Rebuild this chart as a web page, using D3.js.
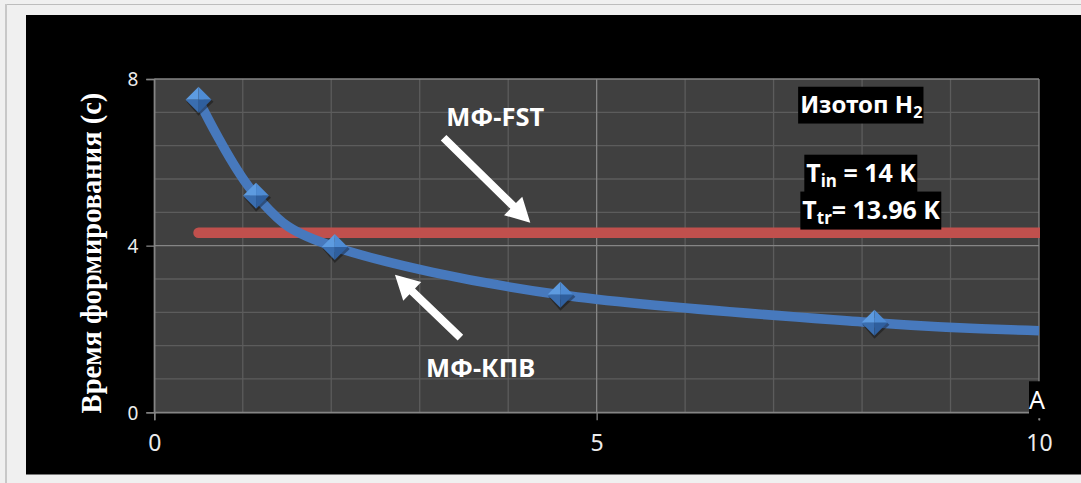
<!DOCTYPE html>
<html><head><meta charset="utf-8">
<script src="https://cdn.jsdelivr.net/npm/d3@7"></script>
<style>html,body{margin:0;padding:0;background:#f0f0f0;} svg{display:block}</style>
</head><body><svg id="c" width="1081" height="483"></svg>
<script>
// ---- data ----
const xValues = [0.5, 1.15, 2.04, 4.59, 8.14, 10];
const kpvValues = [7.5, 5.2, 3.97, 2.82, 2.15, 1.96];
const markerCount = 5;
const fstX = [0.5, 10];
const fstValues = [4.31, 4.31];
const xTicks = [0, 5, 10];
const yTicks = [0, 4, 8];
const xMinorGrid = [1, 2, 3, 4, 6, 7, 8, 9];
const yMinorGrid = [0.8, 1.6, 2.4, 3.2, 4.8, 5.6, 6.4, 7.2];
const yTitle = "Время формирования (с)";
const xTitle = "A";
const seriesLabels = [
  {text: "МФ-FST", x: 3.30, y: 6.86},
  {text: "МФ-КПВ", x: 3.07, y: 0.85}
];
const arrows = [
  {x1: 3.27, y1: 6.59, x2: 4.25, y2: 4.55},
  {x1: 3.46, y1: 1.79, x2: 2.72, y2: 3.30}
];
const infoBoxes = [
  {main: "Изотоп H", sub: "2", rest: "", x: 7.30, y: 7.19, size: 24},
  {main: "T", sub: "in", rest: " = 14 K", x: 7.37, y: 5.535, size: 25},
  {main: "T", sub: "tr", rest: "= 13.96 K", x: 7.325, y: 4.65, size: 25}
];

// ---- layout ----
const svg = d3.select("#c");
const L = 154.3, R = 1039, T = 79, B = 412.3;
const x = d3.scaleLinear().domain([0, 10]).range([L, R]);
const y = d3.scaleLinear().domain([0, 8]).range([B, T]);

// outer frame
svg.append("rect").attr("x", 0).attr("y", 0).attr("width", 1081).attr("height", 483).attr("fill", "#f0f0f0");
svg.append("line").attr("x1", 5).attr("x2", 1081).attr("y1", 4.5).attr("y2", 4.5).attr("stroke", "#bdbdbd").attr("stroke-width", 1);
svg.append("line").attr("x1", 6).attr("x2", 6).attr("y1", 4).attr("y2", 483).attr("stroke", "#c8c8c8").attr("stroke-width", 2);
svg.append("rect").attr("x", 26).attr("y", 15).attr("width", 1081 - 26).attr("height", 474.5 - 15).attr("fill", "#000");

// plot area
svg.append("rect").attr("x", L).attr("y", T).attr("width", R - L).attr("height", B - T).attr("fill", "#404040");

const grid = svg.append("g");
grid.selectAll(".vx").data(xMinorGrid).join("line")
  .attr("x1", d => x(d)).attr("x2", d => x(d)).attr("y1", T).attr("y2", B)
  .attr("stroke", "#5c5c5c").attr("stroke-width", 1.3);
grid.selectAll(".hy").data(yMinorGrid).join("line")
  .attr("y1", d => y(d)).attr("y2", d => y(d)).attr("x1", L).attr("x2", R)
  .attr("stroke", "#5c5c5c").attr("stroke-width", 1.3);
// major grid
grid.selectAll(".mx").data(xTicks).join("line")
  .attr("x1", d => x(d)).attr("x2", d => x(d)).attr("y1", T).attr("y2", B)
  .attr("stroke", "#858585").attr("stroke-width", 1.3);
grid.selectAll(".my").data(yTicks).join("line")
  .attr("y1", d => y(d)).attr("y2", d => y(d)).attr("x1", L).attr("x2", R)
  .attr("stroke", "#858585").attr("stroke-width", 1.3);

// axes
const yAxis = d3.axisLeft(y).tickValues(yTicks).tickSize(8).tickPadding(8).tickFormat(d3.format("d"));
const xAxis = d3.axisBottom(x).tickValues(xTicks).tickSize(8).tickPadding(14).tickFormat(d3.format("d"));
const gy = svg.append("g").attr("transform", `translate(${L},0)`).call(yAxis);
const gx = svg.append("g").attr("transform", `translate(0,${B})`).call(xAxis);
[gx, gy].forEach(g => {
  g.select(".domain").attr("stroke", "#858585").attr("stroke-width", 1.3);
  g.selectAll(".tick line").attr("stroke", "#858585").attr("stroke-width", 1.3);
  g.selectAll(".tick text").attr("fill", "#ececec").attr("font-family", "'Noto Sans', sans-serif");
});
gy.selectAll(".tick text").attr("font-size", 19).attr("dy", "0.36em");
gx.selectAll(".tick text").attr("font-size", 23).attr("dy", "0.72em");

// clip
svg.append("clipPath").attr("id", "clip").append("rect")
  .attr("x", L - 40).attr("y", T - 40).attr("width", R - L + 40 + 1).attr("height", B - T + 80);

// FST line
const fstData = fstX.map((d, i) => [d, fstValues[i]]);
svg.append("path").datum(fstData).attr("clip-path", "url(#clip)")
  .attr("d", d3.line().x(d => x(d[0])).y(d => y(d[1])))
  .attr("stroke", "#c0504d").attr("stroke-width", 10.5).attr("stroke-linecap", "round").attr("fill", "none");

// KPV curve
const kpvData = xValues.map((d, i) => [d, kpvValues[i]]);
svg.append("path").datum(kpvData).attr("clip-path", "url(#clip)")
  .attr("d", d3.line().x(d => x(d[0])).y(d => y(d[1])).curve(d3.curveCardinal.tension(0)))
  .attr("stroke", "#4779bd").attr("stroke-width", 9.5).attr("stroke-linecap", "butt").attr("fill", "none");

// markers (beveled diamonds)
const s = 13;
const faces = [
  {pts: [[0, -s], [-s, 0], [0, 0]], c: "#5d9be0"},
  {pts: [[0, -s], [s, 0], [0, 0]], c: "#4f8cd4"},
  {pts: [[-s, 0], [0, s], [0, 0]], c: "#3a6eb0"},
  {pts: [[s, 0], [0, s], [0, 0]], c: "#2f5f9e"}
];
const mk = svg.selectAll(".mk").data(kpvData.slice(0, markerCount)).join("g")
  .attr("transform", d => `translate(${x(d[0])},${y(d[1])})`);
mk.append("path").attr("d", `M0,${-s + 2}L${s + 2},2L0,${s + 3}L${-s + 1},2Z`).attr("fill", "rgba(0,0,0,0.35)");
faces.forEach(f => {
  mk.append("path").attr("d", "M" + f.pts.map(p => p.join(",")).join("L") + "Z").attr("fill", f.c);
});

// arrows
const sw = 8, hl = 24, hw = 13;
arrows.forEach(a => {
  const x1 = x(a.x1), y1 = y(a.y1), x2 = x(a.x2), y2 = y(a.y2);
  const dx = x2 - x1, dy = y2 - y1, len = Math.hypot(dx, dy);
  const ux = dx / len, uy = dy / len, px = -uy, py = ux;
  const bx = x2 - ux * hl, by = y2 - uy * hl;
  const pts = [
    [x1 + px * sw / 2, y1 + py * sw / 2],
    [bx + px * sw / 2, by + py * sw / 2],
    [bx + px * hw, by + py * hw],
    [x2, y2],
    [bx - px * hw, by - py * hw],
    [bx - px * sw / 2, by - py * sw / 2],
    [x1 - px * sw / 2, y1 - py * sw / 2]
  ];
  svg.append("path").attr("d", "M" + pts.map(p => p.join(",")).join("L") + "Z").attr("fill", "#fff");
});

// series labels
svg.selectAll(".sl").data(seriesLabels).join("text")
  .attr("x", d => x(d.x)).attr("y", d => y(d.y))
  .attr("font-family", "'Noto Sans', sans-serif").attr("font-weight", "bold").attr("font-size", 25.5)
  .attr("fill", "#fff").text(d => d.text);

// info boxes
infoBoxes.forEach(b => {
  const g = svg.append("g");
  const rect = g.append("rect").attr("fill", "#000");
  const t = g.append("text").attr("x", x(b.x)).attr("y", y(b.y))
    .attr("font-family", "'Noto Sans', sans-serif").attr("font-weight", "bold").attr("font-size", b.size).attr("fill", "#fff");
  t.append("tspan").text(b.main);
  t.append("tspan").attr("font-size", b.size * 0.68).attr("dy", b.size * 0.2).text(b.sub);
  if (b.rest) t.append("tspan").attr("dy", -b.size * 0.2).text(b.rest);
  const bb = t.node().getBBox();
  rect.attr("x", bb.x - 2).attr("y", bb.y).attr("width", bb.width + 3).attr("height", bb.height + 1);
});

// x title "A" with black box
const ax = x(10), ay = y(0);
svg.append("rect").attr("x", ax - 10).attr("y", ay - 31).attr("width", 24).attr("height", 37).attr("fill", "#000");
svg.append("text").attr("x", ax - 2).attr("y", ay - 3).attr("text-anchor", "middle")
  .attr("font-family", "'Noto Sans', sans-serif").attr("font-size", 25).attr("fill", "#fff").text(xTitle);
svg.append("line").attr("x1", ax).attr("x2", ax).attr("y1", ay + 6).attr("y2", ay + 8).attr("stroke", "#858585").attr("stroke-width", 1.3);

// y title
svg.append("text").attr("transform", `translate(101,253) rotate(-90)`).attr("text-anchor", "middle")
  .attr("font-family", "'Liberation Serif', 'Times New Roman', serif").attr("font-weight", "bold").attr("font-size", 28.5)
  .attr("fill", "#fff").text(yTitle);
</script></body></html>
